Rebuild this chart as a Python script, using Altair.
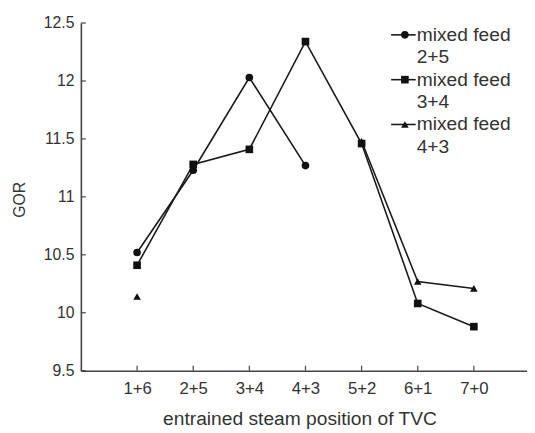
import altair as alt
import pandas as pd

categories = ["1+6", "2+5", "3+4", "4+3", "5+2", "6+1", "7+0"]
series_names = ["mixed feed 2+5", "mixed feed 3+4", "mixed feed 4+3"]
legend_line1 = ["mixed feed", "mixed feed", "mixed feed"]
legend_line2 = ["2+5", "3+4", "4+3"]
gor_25 = [10.52, 11.23, 12.03, 11.27, None, None, None]
gor_34 = [10.41, 11.28, 11.41, 12.34, 11.46, 10.08, 9.88]
gor_43 = [10.14, None, None, None, 11.48, 10.27, 10.21]
y_ticks = [9.5, 10, 10.5, 11, 11.5, 12, 12.5]
shapes = ["circle", "square", "triangle-up"]

# long table, with a segment id so that gaps break the lines
rows = []
for name, vals in zip(series_names, [gor_25, gor_34, gor_43]):
    seg = 0
    prev_ok = False
    for cat, v in zip(categories, vals):
        if v is None:
            prev_ok = False
            continue
        if not prev_ok:
            seg += 1
        rows.append({"category": cat, "GOR": v, "series": name, "segment": f"{name}-{seg}"})
        prev_ok = True
df = pd.DataFrame(rows)

legend_df = pd.DataFrame({
    "series": series_names,
    "line1": legend_line1,
    "line2": legend_line2,
    "row": list(range(len(series_names))),
})
ytick_df = pd.DataFrame({"GOR": y_ticks})
xtick_df = pd.DataFrame({"category": categories})

FONT = "Liberation Sans"
TXT = "#333333"
AX = "#444444"

x_scale = alt.Scale(type="point", domain=categories, padding=0.974, align=0.514, round=False)
y_scale = alt.Scale(domain=[9.5, 12.5], nice=False, zero=False)
shape_scale = alt.Scale(domain=series_names, range=shapes)

x_axis = alt.Axis(
    title="entrained steam position of TVC", labelAngle=0, labelFontSize=17, labelFont=FONT,
    labelColor=TXT, ticks=False, tickSize=0, labelPadding=10, domainColor=AX, domainWidth=1.6,
    titleFontSize=19.5, titleFont=FONT, titleFontWeight="normal", titleColor=TXT,
    titleX=222, titleY=49, titleBaseline="middle", grid=False,
)
y_axis = alt.Axis(
    title="GOR", values=y_ticks, format="~g", labelFontSize=16, labelFont=FONT, labelColor=TXT,
    ticks=False, tickSize=0, labelPadding=7, domainColor=AX, domainWidth=1.6,
    titleFontSize=16, titleFont=FONT, titleFontWeight="normal", titleColor=TXT,
    titleX=-62, titleY=179, titleBaseline="middle", titleAlign="center", grid=False,
)

X_main = alt.X("category:N", sort=categories, scale=x_scale, axis=x_axis)
Y_main = alt.Y("GOR:Q", scale=y_scale, axis=y_axis)
Y_plain = alt.Y("GOR:Q", scale=y_scale, axis=None)

lines = alt.Chart(df).mark_line(color="#1a1a1a", strokeWidth=1.6).encode(
    x=X_main, y=Y_main, detail="segment:N"
)
points = alt.Chart(df).mark_point(filled=True, color="#111111", size=60, opacity=1).encode(
    x=X_main, y=Y_plain,
    shape=alt.Shape("series:N", scale=shape_scale, legend=None),
)
yticks = alt.Chart(ytick_df).mark_rule(color=AX, strokeWidth=1.2).encode(
    y=Y_plain, x=alt.value(0), x2=alt.value(5)
)
xticks = alt.Chart(xtick_df).mark_rule(color=AX, strokeWidth=1.2).encode(
    x=X_main, y=alt.value(353), y2=alt.value(348)
)

Y_leg = alt.Y("row:Q", scale=alt.Scale(domain=[0, 2], range=[12, 103]), axis=None)
leg_rule = alt.Chart(legend_df).mark_rule(color="#1a1a1a", strokeWidth=1.6).encode(
    y=Y_leg, x=alt.value(315), x2=alt.value(340)
)
leg_pts = alt.Chart(legend_df).mark_point(filled=True, color="#111111", size=60, opacity=1).encode(
    y=Y_leg, x=alt.value(329), shape=alt.Shape("series:N", scale=shape_scale, legend=None)
)
leg_t1 = alt.Chart(legend_df).mark_text(
    align="left", baseline="middle", fontSize=19.5, font=FONT, color=TXT
).encode(y=Y_leg, x=alt.value(341), text="line1:N")
leg_t2 = alt.Chart(legend_df).mark_text(
    align="left", baseline="middle", fontSize=19.5, font=FONT, color=TXT, dy=23
).encode(y=Y_leg, x=alt.value(341), text="line2:N")

chart = alt.layer(
    lines, points, yticks, xticks, leg_rule, leg_pts, leg_t1, leg_t2
).resolve_scale(y="independent").properties(
    width=453, height=353,
    autosize=alt.AutoSizeParams(type="none"),
    padding={"left": 74, "top": 12, "right": 0, "bottom": 60},
    background="white",
).configure_view(stroke=None)

chart.save("out.html", embed_options={"renderer": "svg", "actions": False})
